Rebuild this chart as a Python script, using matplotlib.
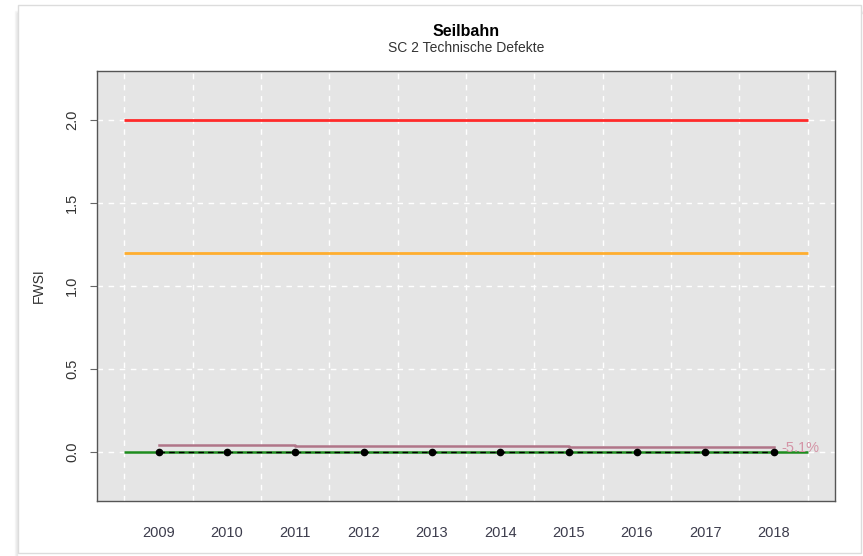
import matplotlib
matplotlib.use("Agg")
import matplotlib.pyplot as plt
from matplotlib.patches import Rectangle
import numpy as np

plt.rcParams['font.family'] = ['Liberation Sans', 'DejaVu Sans']

# data
years = [2009, 2010, 2011, 2012, 2013, 2014, 2015, 2016, 2017, 2018]
fwsi = [0, 0, 0, 0, 0, 0, 0, 0, 0, 0]
trend_x = [2009, 2011, 2015, 2018]
trend_y = [0.040, 0.034, 0.030, 0.030]
trend_label = "-5.1%"
limit_red = 2.0
limit_orange = 1.2
limit_green = 0.0
yticks = [0.0, 0.5, 1.0, 1.5, 2.0]

fig = plt.figure(figsize=(8.63, 5.56), dpi=100)

# screenshot frame with a soft shadow on the left
for i, a in enumerate([0.03, 0.05, 0.08]):
    fig.patches.append(Rectangle(((15 + i) / 863, -0.01), 1.0, (551 - i) / 556,
                                 transform=fig.transFigure, facecolor='none',
                                 edgecolor=(0, 0, 0, a), lw=1, zorder=-3))
fig.patches.append(Rectangle((18 / 863, 3 / 556), 843 / 863, 548 / 556,
                             transform=fig.transFigure, facecolor='white',
                             edgecolor='#dcdcdc', lw=1, zorder=-2))

ax = fig.add_axes([97 / 863, 1 - 501 / 556, 738 / 863, 430 / 556])
ax.set_facecolor('#e5e5e5')

x0, x1 = years[0] - 0.5, years[-1] + 0.5
ax.hlines(limit_red, x0, x1, color='#ff2a2a', lw=2, zorder=3)
ax.hlines(limit_orange, x0, x1, color='#ffae2f', lw=2, zorder=3)
ax.hlines(limit_green, x0, x1, color='#1e8c1e', lw=1.8, zorder=3)
ax.step(trend_x, trend_y, where='post', color='#b07588', lw=1.8, zorder=4)
ax.plot(years, fwsi, color='black', ls=(0, (4, 3)), lw=1, marker='o', ms=4.5, zorder=5)
ax.text(years[-1] + 0.12, 0.022, trend_label, color='#d494a6',
        fontsize=10.5, va='center', ha='left', zorder=6)

ax.set_xlim(2008.1, 2018.9)
ax.set_ylim(-0.295, 2.295)
ax.set_yticks(yticks)
ax.set_yticklabels([f"{v:.1f}" for v in yticks], rotation=90, va='center',
                   fontsize=10.5, color='#333333')
ax.set_xticks(years)
ax.set_xticklabels([str(y) for y in years], fontsize=10.5, color='#3c3c4c')
ax.tick_params(axis='x', length=0, pad=18)
ax.tick_params(axis='y', length=5, color='#666666', pad=8)

for v in np.arange(years[0] - 0.5, years[-1] + 1, 1.0):
    ax.axvline(v, color='white', ls=(0, (4, 4)), lw=1, zorder=1)
for v in yticks:
    ax.axhline(v, color='white', ls=(0, (4, 4)), lw=1, zorder=1)

for s in ax.spines.values():
    s.set_color('#555555')
    s.set_linewidth(1)

ax.set_ylabel("FWSI", fontsize=10, color='#333333', labelpad=14)

fig.text(466 / 863, 1 - 32 / 556, "Seilbahn", ha='center', va='center',
         fontsize=11.5, fontweight='bold', color='black')
fig.text(466 / 863, 1 - 48 / 556, "SC 2 Technische Defekte", ha='center',
         va='center', fontsize=10, color='#333333')

fig.savefig("out.png", dpi=100)
